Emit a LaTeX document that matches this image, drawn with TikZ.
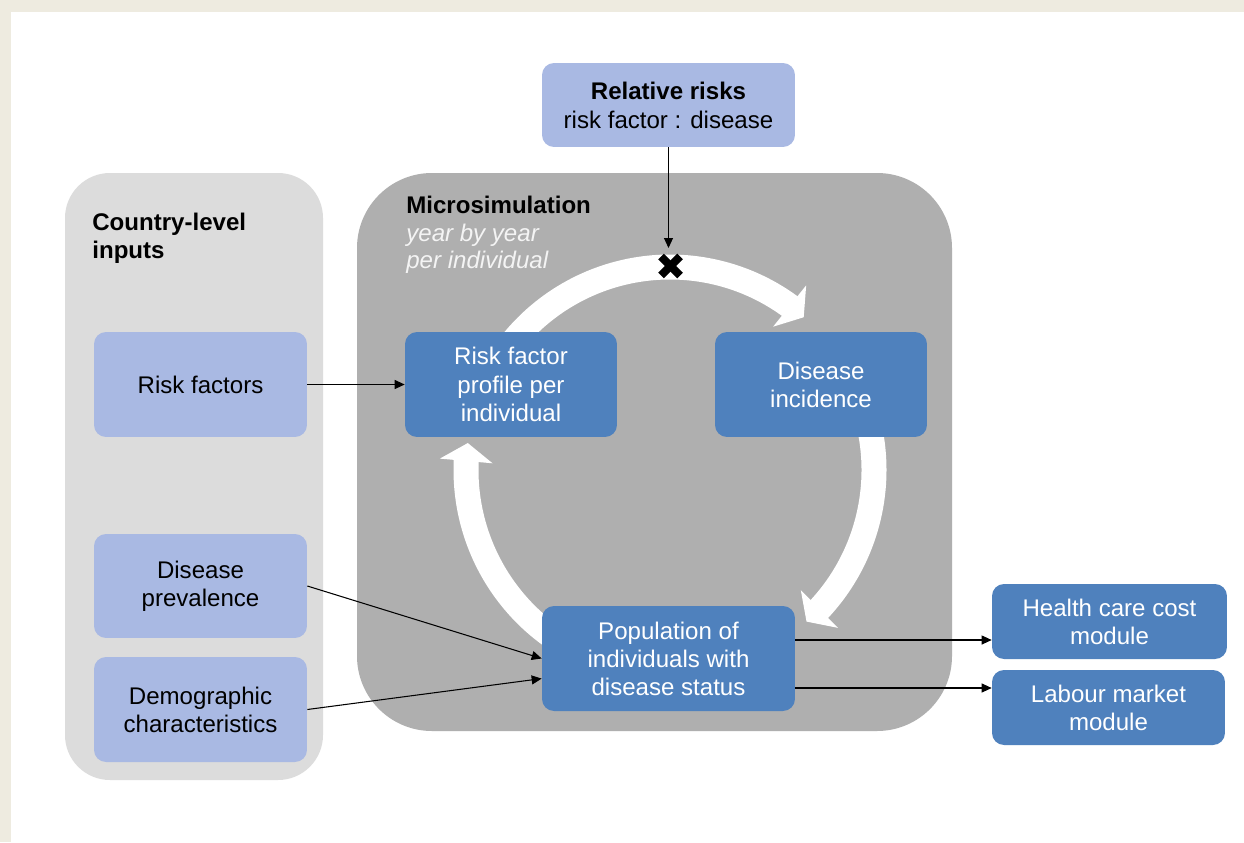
\documentclass[tikz,border=0pt]{standalone}
\usepackage{fontspec}
\setmainfont{Liberation Sans}
\usetikzlibrary{arrows.meta,bending,positioning}
\definecolor{framebeige}{HTML}{EEEBE0}
\definecolor{inputgray}{HTML}{DCDCDC}
\definecolor{simgray}{HTML}{AFAFAF}
\definecolor{lightblue}{HTML}{A9B9E3}
\definecolor{midblue}{HTML}{4F81BD}
\definecolor{softwhite}{HTML}{F4F4F4}
\tikzset{
  inbox/.style={fill=lightblue, rounded corners=0.24cm, align=center, text=black,
    minimum width=4.26cm, minimum height=2.1cm, inner sep=0pt},
  simbox/.style={fill=midblue, rounded corners=0.24cm, align=center, text=white,
    minimum width=4.24cm, minimum height=2.1cm, inner sep=0pt},
  arr/.style={-{Triangle[length=0.2cm,width=0.18cm]}, line width=0.6pt},
  cyclearrow/.style={white, line width=0.5cm, -{Triangle[length=0.36cm,width=1.04cm]}},
  paneltitle/.style={anchor=north west, inner sep=0pt, align=left},
}
\begin{document}
\begin{tikzpicture}[x=0.02cm, y=-0.02cm, font=\fontsize{13.7}{16}\selectfont]
  % frame and panels
  \fill[framebeige] (0,0) rectangle (1244,842);
  \fill[white] (11,12) rectangle (1244,842);
  \fill[inputgray, rounded corners=0.9cm] (65,173) rectangle (323,780);
  \fill[simgray, rounded corners=1.5cm] (357,173) rectangle (952,731);
  \node[paneltitle, font=\fontsize{13.7}{15.5}\selectfont\bfseries] (inputs) at (92,213) {Country-level\\inputs};
  \node[paneltitle, font=\fontsize{13.7}{15.5}\selectfont] (micro) at (406,196)
    {\textbf{Microsimulation}\\\textcolor{softwhite}{\itshape year by year}\\\textcolor{softwhite}{\itshape per individual}};
  % yearly cycle
  \coordinate (c) at (670,470);
  \draw[cyclearrow] (c) ++(-150:203) arc[start angle=-150, end angle=-48.8, radius=203];
  \draw[cyclearrow] (c) ++(-20:204) arc[start angle=-20, end angle=48, radius=204];
  \draw[cyclearrow] (c) ++(120:204) arc[start angle=120, end angle=187.6, radius=204];
  \coordinate (mix) at (670.5,266);
  \coordinate (mixtop) at (668.5,248);
  \draw[line width=0.16cm] ([shift={(-9.5,-9.5)}]mix) -- ([shift={(9.5,9.5)}]mix);
  \draw[line width=0.16cm] ([shift={(9.5,-9.5)}]mix) -- ([shift={(-9.5,9.5)}]mix);
  % boxes
  \node[inbox, minimum width=5.06cm, minimum height=1.68cm, font=\fontsize{13.7}{16.5}\selectfont] (rr) at (668.5,105)
    {\textbf{Relative risks}\\risk factor : disease};
  \node[inbox] (rf) at (200.5,384.5) {Risk factors};
  \node[inbox, minimum height=2.08cm] (dp) at (200.5,586) {Disease\\prevalence};
  \node[inbox] (dc) at (200.5,709.5) {Demographic\\characteristics};
  \node[simbox] (rfp) at (511,384.5) {Risk factor\\profile per\\individual};
  \node[simbox] (di) at (821,384.5) {Disease\\incidence};
  \node[simbox, minimum width=5.06cm] (pop) at (668.5,658.5) {Population of\\individuals with\\disease status};
  \node[simbox, minimum width=4.7cm, minimum height=1.5cm] (hc) at (1109.5,621.5) {Health care cost\\module};
  \node[simbox, minimum width=4.66cm, minimum height=1.5cm] (lm) at (1108.5,707.5) {Labour market\\module};
  % connectors
  \draw[arr] (rr.south) -- (mixtop);
  \draw[arr] (rf.east) -- (rfp.west);
  \draw[arr] (dp.east) -- (pop.west);
  \draw[arr] (dc.east) -- (pop.189);
  \draw[arr] ([yshift=0.37cm]pop.east) -- ([yshift=0.37cm]pop.east -| hc.west);
  \draw[arr] ([yshift=-0.59cm]pop.east) -- ([yshift=-0.59cm]pop.east -| lm.west);
\end{tikzpicture}
\end{document}
